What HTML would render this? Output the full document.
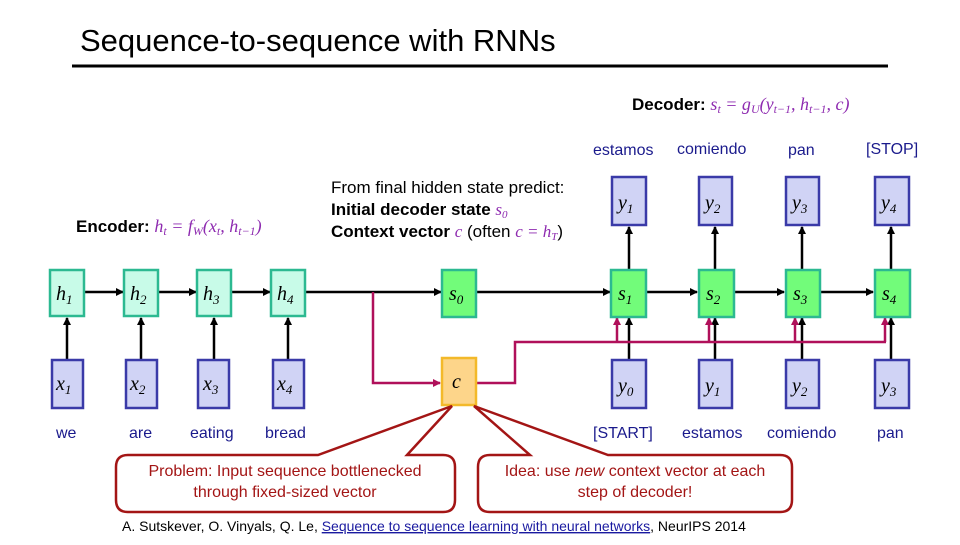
<!DOCTYPE html>
<html><head><meta charset="utf-8"><style>
body{margin:0;background:#fff;}
svg text{font-family:"Liberation Sans",sans-serif;}
svg text.m, svg .m text, svg .m tspan, svg tspan.m{font-family:"Liberation Serif",serif;font-style:italic;}
</style></head><body>
<svg width="960" height="540" viewBox="0 0 960 540" xmlns="http://www.w3.org/2000/svg">
<defs>
<marker id="a" markerWidth="8" markerHeight="8" refX="7" refY="4" orient="auto" markerUnits="userSpaceOnUse"><path d="M0,0 L8,4 L0,8z" fill="#000"/></marker>
<marker id="p" markerWidth="8" markerHeight="8" refX="7" refY="4" orient="auto" markerUnits="userSpaceOnUse"><path d="M0,0 L8,4 L0,8z" fill="#b0105a"/></marker>
</defs>
<text x="80" y="51" font-size="31" fill="#000">Sequence-to-sequence with RNNs</text>
<line x1="72" y1="66" x2="888" y2="66" stroke="#000" stroke-width="3"/>

<text x="632" y="110" font-size="17" font-weight="bold">Decoder: <tspan class="m" fill="#8e2bb0" font-weight="normal" font-size="18">s<tspan font-size="12" dy="3">t</tspan><tspan dy="-3"> = g</tspan><tspan font-size="12" dy="3">U</tspan><tspan dy="-3">(y</tspan><tspan font-size="12" dy="3">t−1</tspan><tspan dy="-3">, h</tspan><tspan font-size="12" dy="3">t−1</tspan><tspan dy="-3">, c)</tspan></tspan></text>
<text x="76" y="232" font-size="17" font-weight="bold">Encoder: <tspan class="m" fill="#8e2bb0" font-weight="normal" font-size="18">h<tspan font-size="12" dy="3">t</tspan><tspan dy="-3"> = f</tspan><tspan font-size="12" dy="3">W</tspan><tspan dy="-3">(x</tspan><tspan font-size="12" dy="3">t</tspan><tspan dy="-3">, h</tspan><tspan font-size="12" dy="3">t−1</tspan><tspan dy="-3">)</tspan></tspan></text>
<text x="331" y="193" font-size="17">From final hidden state predict:</text>
<text x="331" y="215" font-size="17" font-weight="bold">Initial decoder state <tspan class="m" fill="#8e2bb0" font-weight="normal">s<tspan font-size="11" dy="3">0</tspan></tspan></text>
<text x="331" y="237" font-size="17"><tspan font-weight="bold">Context vector </tspan><tspan class="m" fill="#8e2bb0">c</tspan> (often <tspan class="m" fill="#8e2bb0">c = h<tspan font-size="11" dy="3">T</tspan></tspan><tspan dy="-3">)</tspan></text>

<g font-size="16" fill="#1a1a8c">
<text x="593" y="155">estamos</text><text x="677" y="154">comiendo</text><text x="788" y="155">pan</text><text x="866" y="154">[STOP]</text>
<text x="56" y="438">we</text><text x="129" y="438">are</text><text x="190" y="438">eating</text><text x="265" y="438">bread</text>
<text x="593" y="438">[START]</text><text x="682" y="438">estamos</text><text x="767" y="438">comiendo</text><text x="877" y="438">pan</text>
</g>

<g stroke="#000" stroke-width="2.5" fill="none" marker-end="url(#a)">
<line x1="67" y1="360" x2="67" y2="318"/><line x1="141" y1="360" x2="141" y2="318"/><line x1="214" y1="360" x2="214" y2="318"/><line x1="288" y1="360" x2="288" y2="318"/>
<line x1="84" y1="292" x2="123" y2="292"/><line x1="158" y1="292" x2="196" y2="292"/><line x1="231" y1="292" x2="270" y2="292"/>
<line x1="305" y1="292" x2="441" y2="292"/><line x1="476" y1="292" x2="610" y2="292"/>
<line x1="646" y1="292" x2="697" y2="292"/><line x1="733" y1="292" x2="784" y2="292"/><line x1="820" y1="292" x2="873" y2="292"/>
<line x1="629" y1="360" x2="629" y2="318"/><line x1="715" y1="360" x2="715" y2="318"/><line x1="802" y1="360" x2="802" y2="318"/><line x1="891" y1="360" x2="891" y2="318"/>
<line x1="629" y1="270" x2="629" y2="227"/><line x1="715" y1="270" x2="715" y2="227"/><line x1="802" y1="270" x2="802" y2="227"/><line x1="891" y1="270" x2="891" y2="227"/>
</g>
<g stroke="#b0105a" stroke-width="2.5" fill="none">
<polyline points="373,292 373,383 440,383" marker-end="url(#p)"/>
<polyline points="476,383 515,383 515,342 886,342"/>
<line x1="617" y1="342" x2="617" y2="318" marker-end="url(#p)"/>
<line x1="709" y1="342" x2="709" y2="318" marker-end="url(#p)"/>
<line x1="795" y1="342" x2="795" y2="318" marker-end="url(#p)"/>
<line x1="885" y1="342" x2="885" y2="318" marker-end="url(#p)"/>
</g>

<g stroke-width="2.5">
<g fill="#c8fbe8" stroke="#2cb991">
<rect x="50" y="270" width="34" height="46"/><rect x="124" y="270" width="34" height="46"/><rect x="197" y="270" width="34" height="46"/><rect x="271" y="270" width="34" height="46"/>
</g>
<g fill="#d0d3f5" stroke="#3a3aa8">
<rect x="52" y="360" width="31" height="48"/><rect x="126" y="360" width="31" height="48"/><rect x="198" y="360" width="31" height="48"/><rect x="273" y="360" width="31" height="48"/>
<rect x="612" y="177" width="34" height="48"/><rect x="699" y="177" width="33" height="48"/><rect x="786" y="177" width="33" height="48"/><rect x="875" y="177" width="34" height="48"/>
<rect x="612" y="360" width="34" height="48"/><rect x="699" y="360" width="33" height="48"/><rect x="786" y="360" width="33" height="48"/><rect x="875" y="360" width="34" height="48"/>
</g>
<g fill="#72fc7a" stroke="#2cb991">
<rect x="442" y="270" width="34" height="47"/><rect x="611" y="270" width="35" height="47"/><rect x="699" y="270" width="35" height="47"/><rect x="786" y="270" width="34" height="47"/><rect x="875" y="270" width="35" height="47"/>
</g>
<rect x="442" y="358" width="34" height="47" fill="#fdd58a" stroke="#f3b92a"/>
</g>

<g class="m" font-size="20" fill="#000">
<text x="56" y="300">h<tspan font-size="13" dy="4">1</tspan></text><text x="130" y="300">h<tspan font-size="13" dy="4">2</tspan></text><text x="203" y="300">h<tspan font-size="13" dy="4">3</tspan></text><text x="277" y="300">h<tspan font-size="13" dy="4">4</tspan></text>
<text x="56" y="390">x<tspan font-size="13" dy="4">1</tspan></text><text x="130" y="390">x<tspan font-size="13" dy="4">2</tspan></text><text x="203" y="390">x<tspan font-size="13" dy="4">3</tspan></text><text x="277" y="390">x<tspan font-size="13" dy="4">4</tspan></text>
<text x="449" y="300">s<tspan font-size="13" dy="4">0</tspan></text><text x="618" y="300">s<tspan font-size="13" dy="4">1</tspan></text><text x="706" y="300">s<tspan font-size="13" dy="4">2</tspan></text><text x="793" y="300">s<tspan font-size="13" dy="4">3</tspan></text><text x="882" y="300">s<tspan font-size="13" dy="4">4</tspan></text>
<text x="618" y="209">y<tspan font-size="13" dy="4">1</tspan></text><text x="705" y="209">y<tspan font-size="13" dy="4">2</tspan></text><text x="792" y="209">y<tspan font-size="13" dy="4">3</tspan></text><text x="881" y="209">y<tspan font-size="13" dy="4">4</tspan></text>
<text x="618" y="392">y<tspan font-size="13" dy="4">0</tspan></text><text x="705" y="392">y<tspan font-size="13" dy="4">1</tspan></text><text x="792" y="392">y<tspan font-size="13" dy="4">2</tspan></text><text x="881" y="392">y<tspan font-size="13" dy="4">3</tspan></text>
<text x="452" y="388">c</text>
</g>

<path d="M128,455 L318,455 L452,406 L407,455 L443,455 Q455,455 455,467 L455,500 Q455,512 443,512 L128,512 Q116,512 116,500 L116,467 Q116,455 128,455 Z" fill="#fff" stroke="#a31515" stroke-width="2.5"/>
<path d="M490,455 L530,455 L474,406 L608,455 L780,455 Q792,455 792,467 L792,500 Q792,512 780,512 L490,512 Q478,512 478,500 L478,467 Q478,455 490,455 Z" fill="#fff" stroke="#a31515" stroke-width="2.5"/>
<g font-size="16" fill="#a31515" text-anchor="middle">
<text x="285" y="476">Problem: Input sequence bottlenecked</text>
<text x="285" y="497">through fixed-sized vector</text>
<text x="635" y="476">Idea: use <tspan font-style="italic">new</tspan> context vector at each</text>
<text x="635" y="497">step of decoder!</text>
</g>
<text x="122" y="531" font-size="14" fill="#000">A. Sutskever, O. Vinyals, Q. Le, <tspan fill="#1a1aa0" text-decoration="underline">Sequence to sequence learning with neural networks</tspan>, NeurIPS 2014</text>
</svg>
</body></html>
